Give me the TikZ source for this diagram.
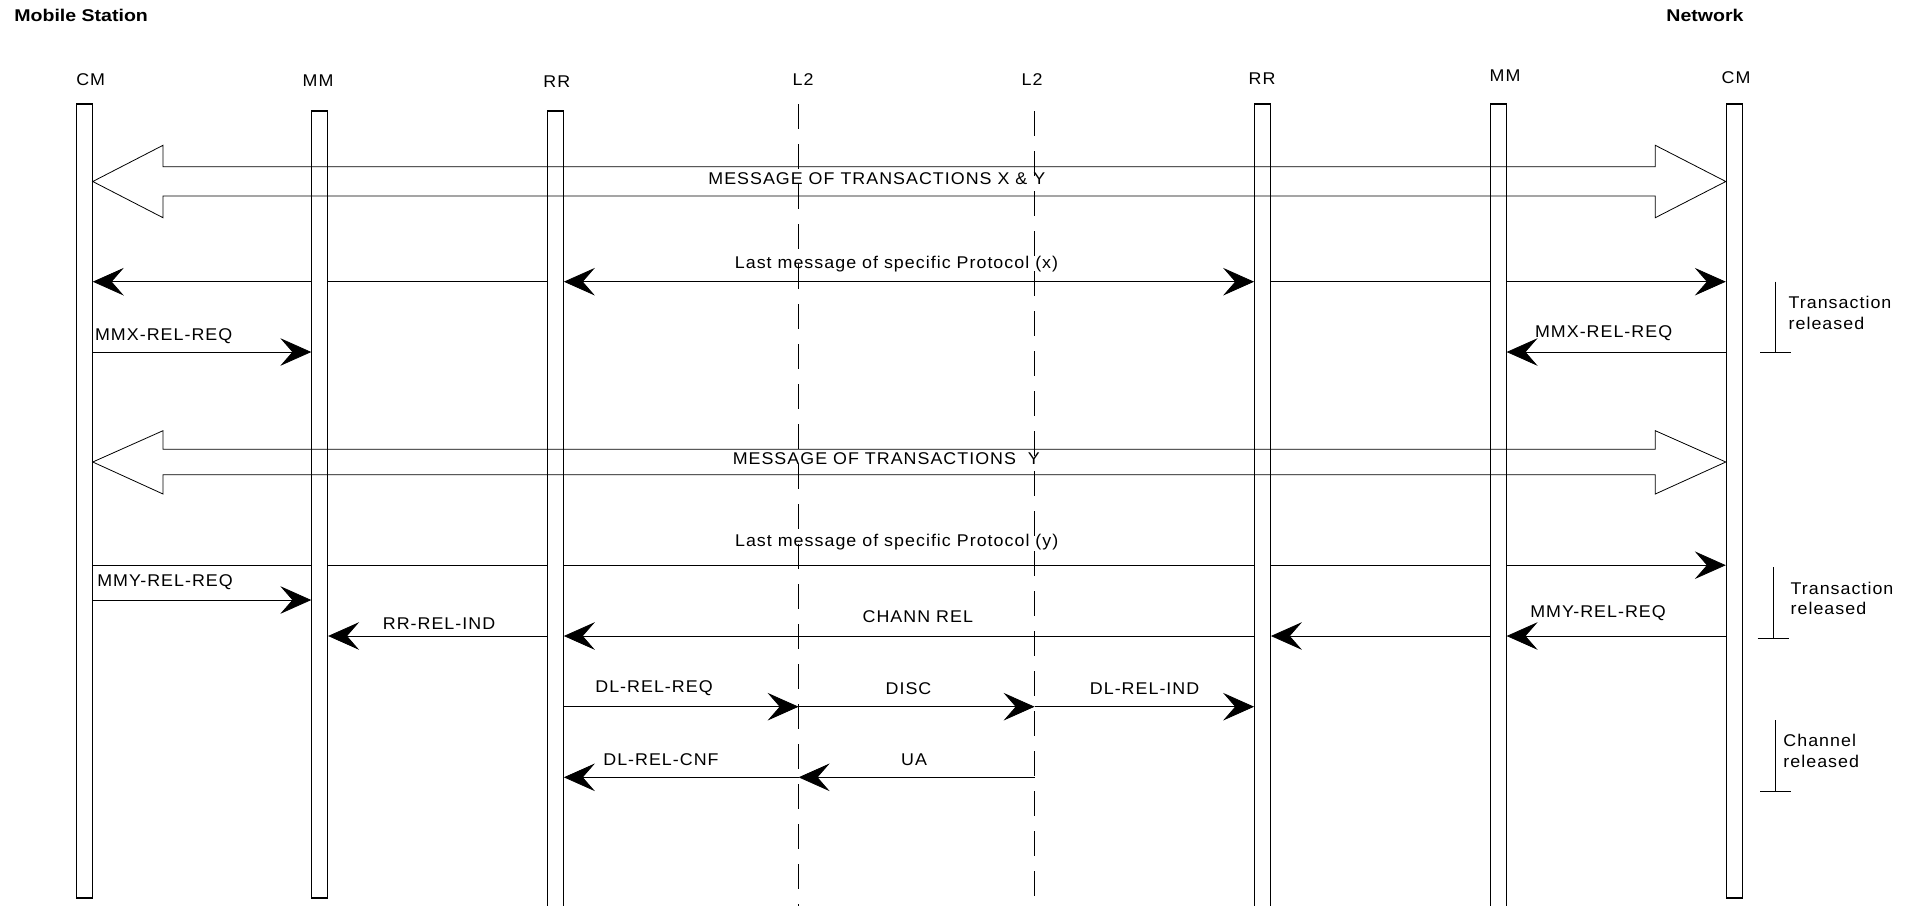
\documentclass[tikz,border=0pt]{standalone}
\usepackage{fontspec}
\newfontfamily\lbl[FakeStretch=1.05,LetterSpace=6]{Liberation Sans}
\newfontfamily\lblb[FakeStretch=1.15]{Liberation Sans Bold}
\usetikzlibrary{arrows.meta}
\pgfdeclarelayer{bg}
\pgfsetlayers{bg,main}
\begin{document}
\begin{tikzpicture}[x=0.5pt,y=-0.5pt,line width=0.55pt,
  bar/.style={draw,fill=white,rectangle,inner sep=0pt,minimum width=7.85pt},
  tip/.tip={Stealth[length=15.5pt,width=13.8pt,inset=6pt]},
  msg/.style={-tip},
  dmsg/.style={tip-tip},
  l2line/.style={dash pattern=on 12.5pt off 7.5pt},
  big/.style={line join=miter},
  txt/.style={font=\lbl\fontsize{8.5pt}{10.3pt}\selectfont,inner sep=0pt},
  hdr/.style={font=\lblb\fontsize{8.5pt}{10.3pt}\selectfont,inner sep=0pt},
  note/.style={txt,align=left,anchor=west},
]
\useasboundingbox (0,0) rectangle (1915,905);

% side headings
\node[hdr,anchor=west] (ms) at (13.8,15.7) {Mobile Station};
\node[hdr] (nw) at (1705,15.7) {Network};

% protocol layers
\node[txt] (lcmL) at (90.7,79.3) {CM};
\node[txt] (lmmL) at (318,81) {MM};
\node[txt] (lrrL) at (556.8,81.7) {RR};
\node[txt] (ll2a) at (803,79.3) {L2};
\node[txt] (ll2b) at (1032,80) {L2};
\node[txt] (lrrR) at (1262,79) {RR};
\node[txt] (lmmR) at (1505,76) {MM};
\node[txt] (lcmR) at (1736,77.3) {CM};

% lifeline bars
\node[bar,minimum height=397pt] (cmL) at (84.35,501) {};
\node[bar,minimum height=393.5pt] (mmL) at (319.7,504.5) {};
\node[bar,minimum height=398.5pt] (rrL) at (555.45,509.5) {};
\node[bar,minimum height=402pt] (rrR) at (1262.5,506) {};
\node[bar,minimum height=402pt] (mmR) at (1498.2,506) {};
\node[bar,minimum height=397pt] (cmR) at (1734.2,501) {};

% layer 2 lines
\coordinate (l2a) at (798.6,104);
\coordinate (l2aEnd) at (798.6,910);
\coordinate (l2b) at (1034.6,111);
\coordinate (l2bEnd) at (1034.6,896);

% message rows
\coordinate (rA) at (0,181.5);
\coordinate (rB) at (0,281.7);
\coordinate (rC) at (0,352);
\coordinate (rD) at (0,462);
\coordinate (rE) at (0,565.2);
\coordinate (rF) at (0,600);
\coordinate (rG) at (0,636);
\coordinate (rH) at (0,706.7);
\coordinate (rI) at (0,777.3);

\begin{pgfonlayer}{bg}
  \draw[l2line] (l2a) -- (l2aEnd);
  \draw[l2line] (l2b) -- (l2bEnd);
  % last message of protocol x
  \draw[msg] (rrL.west |- rB) -- (cmL.east |- rB);
  \draw[dmsg] (rrL.east |- rB) -- (rrR.west |- rB);
  \draw[msg] (rrR.east |- rB) -- (cmR.west |- rB);
  % MMX release requests
  \draw[msg] (cmL.east |- rC) -- (mmL.west |- rC);
  \draw[msg] (cmR.west |- rC) -- (mmR.east |- rC);
  % last message of protocol y
  \draw[msg] (cmL.east |- rE) -- (cmR.west |- rE);
  % MMY release request (mobile side)
  \draw[msg] (cmL.east |- rF) -- (mmL.west |- rF);
  % channel release
  \draw[msg] (rrL.west |- rG) -- (mmL.east |- rG);
  \draw[msg] (rrR.west |- rG) -- (rrL.east |- rG);
  \draw[msg] (mmR.west |- rG) -- (rrR.east |- rG);
  \draw[msg] (cmR.west |- rG) -- (mmR.east |- rG);
  % data link disconnection
  \draw[msg] (rrL.east |- rH) -- (l2a |- rH);
  \draw[msg] (l2a |- rH) -- (l2b |- rH);
  \draw[msg] (l2b |- rH) -- (rrR.west |- rH);
  \draw[msg] (l2a |- rI) -- (rrL.east |- rI);
  \draw[msg] (l2b |- rI) -- (l2a |- rI);
\end{pgfonlayer}

% wide transaction arrows
\draw[big] (cmL.east |- rA) -- (163,145.3) -- (163,166.7) -- (1655.3,166.7)
  -- (1655.3,145.3) -- (cmR.west |- rA) -- (1655.3,217.7) -- (1655.3,196)
  -- (163,196) -- (163,217.7) -- cycle;
\draw[big] (cmL.east |- rD) -- (163,430.7) -- (163,449.3) -- (1655.3,449.3)
  -- (1655.3,430.7) -- (cmR.west |- rD) -- (1655.3,494) -- (1655.3,474.8)
  -- (163,474.8) -- (163,494) -- cycle;

% message labels
\node[txt] (tA) at (876.8,179) {MESSAGE OF TRANSACTIONS X \& Y};
\node[txt] (tB) at (896.5,264) {Last message of specific Protocol (x)};
\node[txt,anchor=west] (tC1) at (94.7,335.7) {MMX-REL-REQ};
\node[txt] (tC2) at (1603.6,332.7) {MMX-REL-REQ};
\node[txt] (tD) at (886.3,458.3) {MESSAGE OF TRANSACTIONS\ \ Y};
\node[txt] (tE) at (896.7,541.7) {Last message of specific Protocol (y)};
\node[txt,anchor=west] (tF) at (96.9,581.7) {MMY-REL-REQ};
\node[txt] (tG1) at (439,623.3) {RR-REL-IND};
\node[txt] (tG2) at (917.8,616.7) {CHANN REL};
\node[txt] (tG3) at (1598,612.7) {MMY-REL-REQ};
\node[txt] (tH1) at (654,688.3) {DL-REL-REQ};
\node[txt] (tH2) at (908.5,688.3) {DISC};
\node[txt] (tH3) at (1144.6,688.3) {DL-REL-IND};
\node[txt] (tI1) at (661,759.3) {DL-REL-CNF};
\node[txt] (tI2) at (914,759.3) {UA};

% release brackets
\coordinate (b1t) at (1775.3,281.7);
\coordinate (b1b) at (1775.3,352);
\coordinate (b1l) at (1760,352);
\coordinate (b1r) at (1791.4,352);
\draw (b1t) -- (b1b) (b1l) -- (b1r);
\node[note] (n1) at (1788.2,313) {Transaction\\released};

\coordinate (b2t) at (1773.7,567.3);
\coordinate (b2b) at (1773.7,638.3);
\coordinate (b2l) at (1757.6,638.3);
\coordinate (b2r) at (1789.4,638.3);
\draw (b2t) -- (b2b) (b2l) -- (b2r);
\node[note] (n2) at (1790.2,598.6) {Transaction\\released};

\coordinate (b3t) at (1775.7,720.3);
\coordinate (b3b) at (1775.7,791.3);
\coordinate (b3l) at (1760,791.3);
\coordinate (b3r) at (1791.4,791.3);
\draw (b3t) -- (b3b) (b3l) -- (b3r);
\node[note] (n3) at (1783,751) {Channel\\released};
\end{tikzpicture}
\end{document}
